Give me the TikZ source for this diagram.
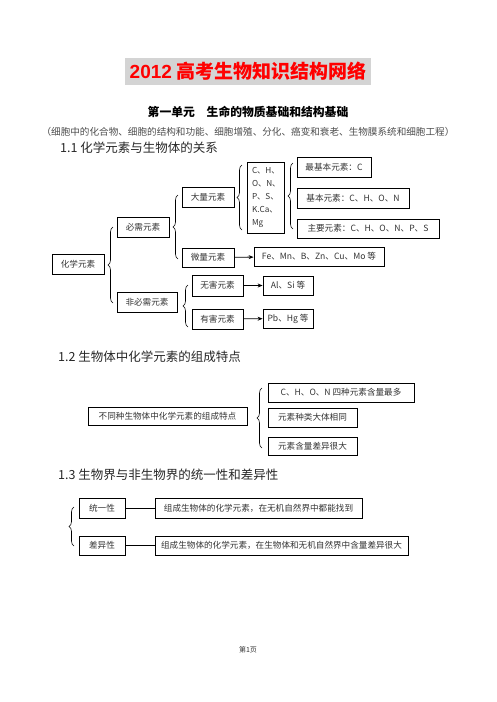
\documentclass[tikz,border=0pt]{standalone}
\usepackage{fontspec}
\setmainfont{Noto Sans CJK SC}
\newfontfamily\latinsans{Liberation Sans}
\usetikzlibrary{decorations.pathreplacing,arrows.meta}
\begin{document}
\begin{tikzpicture}[x=1pt,y=-1pt,
  box/.style={draw, line width=0.8pt, inner sep=0pt, font=\fontsize{8.6}{10}\selectfont, text=black!80},
  br/.style={decorate, decoration={brace, amplitude=5pt}, line width=0.6pt},
  arr/.style={-{Stealth[length=5pt,width=4pt]}, line width=0.8pt},
  head/.style={anchor=west, inner sep=0pt, font=\fontsize{12.5}{14}\selectfont, text=black!85},
]
\useasboundingbox (0,0) rectangle (496,702);

% title
\fill[black!17] (125,58) rectangle (371,85);
\node[inner sep=0pt, text=red, font=\fontsize{19}{22}\selectfont\bfseries] (title) at (248,71.5) {{\latinsans\bfseries 2012} 高考生物知识结构网络};
\node[inner sep=0pt, font=\fontsize{11.8}{14}\selectfont\bfseries] (unit) at (248,112) {第一单元　生命的物质基础和结构基础};
\node[inner sep=0pt, text=black!70, font=\fontsize{9.6}{12}\selectfont] (sub) at (248,132) {（细胞中的化合物、细胞的结构和功能、细胞增殖、分化、癌变和衰老、生物膜系统和细胞工程）};

% 1.1
\node[head] (h1) at (60,148) {1.1 化学元素与生物体的关系};
\node[box, minimum width=52, minimum height=20] (hx) at (78,264) {化学元素};
\node[box, minimum width=52, minimum height=20] (bx) at (143,227) {必需元素};
\node[box, minimum width=60, minimum height=20] (fbx) at (147,302) {非必需元素};
\node[box, minimum width=52, minimum height=20] (dl) at (208,197) {大量元素};
\node[box, minimum width=52, minimum height=19] (wl) at (208,257.5) {微量元素};
\node[box, minimum width=37, minimum height=71, inner xsep=5pt, text width=27pt, align=left, font=\fontsize{8.2}{13}\selectfont] (el) at (265.5,197.5) {C、H、\\O、N、\\P、S、\\K.Ca、\\Mg};
\node[box, minimum width=74, minimum height=20] (zjb) at (334,167) {最基本元素：C};
\node[box, minimum width=112, minimum height=20] (jb) at (353,198) {基本元素：C、H、O、N};
\node[box, minimum width=142, minimum height=19] (zy) at (368,228.5) {主要元素：C、H、O、N、P、S};
\node[box, minimum width=130, minimum height=19] (fe) at (319,256.5) {Fe、Mn、B、Zn、Cu、Mo 等};
\node[box, minimum width=51, minimum height=21] (wh) at (217.5,285.5) {无害元素};
\node[box, minimum width=51, minimum height=20] (yh) at (217.5,319) {有害元素};
\node[box, minimum width=50, minimum height=19] (alsi) at (288,285.5) {Al、Si 等};
\node[box, minimum width=50, minimum height=19] (pbhg) at (288,318.5) {Pb、Hg 等};

\draw[br] (113,303) -- (113,227);
\draw[br] (178,259) -- (178,195);
\draw[br] (242,230) -- (242,165);
\draw[br] (293,229) -- (293,163);
\draw[br] (188,327) -- (188,285);
\draw[arr] (wl) -- (fe);
\draw[arr] (wh) -- (alsi);
\draw[arr] (yh) -- (pbhg);

% 1.2
\node[head] (h2) at (58,357) {1.2 生物体中化学元素的组成特点};
\node[box, minimum width=159, minimum height=18] (bt) at (167.5,416) {不同种生物体中化学元素的组成特点};
\node[box, minimum width=146, minimum height=19] (c1) at (341,392.5) {C、H、O、N 四种元素含量最多};
\node[box, minimum width=89, minimum height=19] (c2) at (312.5,417.5) {元素种类大体相同};
\node[box, minimum width=89, minimum height=18] (c3) at (312.5,446) {元素含量差异很大};
\draw[br] (262,448) -- (262,388);

% 1.3
\node[head] (h3) at (58,475) {1.3 生物界与非生物界的统一性和差异性};
\node[box, minimum width=46, minimum height=20] (ty) at (102,508) {统一性};
\node[box, minimum width=207, minimum height=20] (t1) at (258.5,508) {组成生物体的化学元素，在无机自然界中都能找到};
\node[box, minimum width=46, minimum height=19] (cy) at (102,545.5) {差异性};
\node[box, minimum width=253, minimum height=19] (t2) at (281.5,545.5) {组成生物体的化学元素，在生物体和无机自然界中含量差异很大};
\draw[br] (74,546) -- (74,507);
\draw[line width=0.8pt] (ty) -- (t1);
\draw[line width=0.8pt] (cy) -- (t2);

% footer
\node[inner sep=0pt, font=\fontsize{7}{8}\selectfont, text=black!80] (foot) at (248,650) {第1页};
\end{tikzpicture}
\end{document}
